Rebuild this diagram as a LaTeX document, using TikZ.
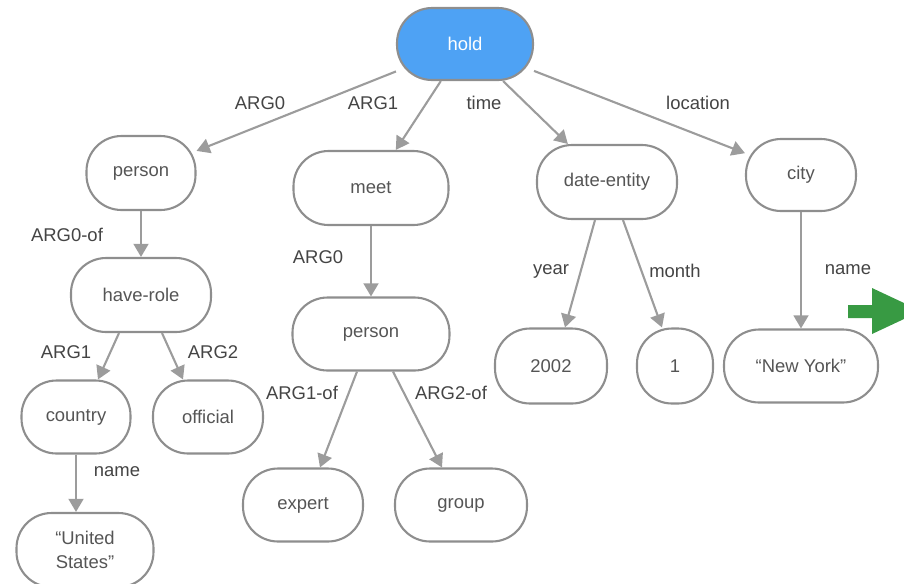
\documentclass[tikz,border=0pt]{standalone}
\usepackage{fontspec}
\setmainfont{Liberation Sans}
\usetikzlibrary{arrows.meta,calc}

\definecolor{holdblue}{HTML}{4EA2F4}
\definecolor{nodegray}{HTML}{8E8E8E}
\definecolor{edgegray}{HTML}{9C9C9C}
\definecolor{textgray}{HTML}{555555}
\definecolor{arrowgreen}{HTML}{389A43}

\tikzset{
  concept/.style={draw=nodegray, line width=1.2pt, rounded corners=0.7cm,
    minimum height=1.48cm, text=textgray, align=center,
    font=\fontsize{10.5}{14}\selectfont},
  root/.style={concept, fill=holdblue, text=white},
  relation/.style={draw=edgegray, line width=1.2pt,
    -{Triangle[width=8.5pt,length=7.5pt]}},
  rellabel/.style={text=textgray!80!black, font=\fontsize{10.5}{12}\selectfont}
}

\begin{document}
\begin{tikzpicture}[x=0.02cm,y=-0.02cm]
\useasboundingbox (0,0) rectangle (904,583);

% --- the root
\node[root,minimum width=2.72cm,minimum height=1.44cm] (hold) at (465,44) {hold};

% ---- first row
\node[concept,minimum width=2.18cm] (person) at (141,173) {person};
\node[concept,minimum width=3.1cm] (meet) at (371,188) {meet};
\node[concept,minimum width=2.8cm] (dateentity) at (607,182) {date-entity};
\node[concept,minimum width=2.2cm,minimum height=1.44cm] (city) at (801,175) {city};

% ---- second row
\node[concept,minimum width=2.8cm] (haverole) at (141,295) {have-role};
\node[concept,minimum width=3.14cm,minimum height=1.46cm] (person2) at (371,334) {person};
\node[concept,minimum width=2.24cm,minimum height=1.5cm] (y2002) at (551,366) {2002};
\node[concept,minimum width=1.52cm,minimum height=1.5cm] (m1) at (675,366) {1};
\node[concept,minimum width=3.08cm,minimum height=1.46cm] (newyork) at (801,366) {``New York''};

% ---- third row
\node[concept,minimum width=2.18cm,minimum height=1.46cm] (country) at (76,417) {country};
\node[concept,minimum width=2.2cm,minimum height=1.46cm] (official) at (208,417) {official};
\node[concept,minimum width=2.4cm,minimum height=1.46cm] (expert) at (303,505) {expert};
\node[concept,minimum width=2.64cm,minimum height=1.46cm] (group) at (461,505) {group};
\node[concept,minimum width=2.74cm] (unitedstates) at (85,550) {``United\\States''};

% --- relations from the root
\draw[relation] (hold) -- (person);
\draw[relation] (hold) -- (meet);
\draw[relation] (hold) -- (dateentity);
\draw[relation] (hold) -- (city);

% --- relations below
\draw[relation] (person) -- (haverole);
\draw[relation] ($(haverole.south)+(-22,0)$) -- ($(country.north)+(22,0)$);
\draw[relation] ($(haverole.south)+(21,0)$) -- ($(official.north)+(-25,0)$);
\draw[relation] (country.south) -- (country.south |- unitedstates.north);
\draw[relation] (meet) -- (person2);
\draw[relation] ($(person2.south)+(-14,0)$) -- ($(expert.north)+(17,0)$);
\draw[relation] ($(person2.south)+(22,0)$) -- ($(group.north)+(-19,0)$);
\draw[relation] ($(dateentity.south)+(-12,0)$) -- ($(y2002.north)+(14,0)$);
\draw[relation] ($(dateentity.south)+(16,0)$) -- ($(m1.north)+(-13,0)$);
\draw[relation] (city) -- (newyork);

% ---- labels on the relations
\node[rellabel] (larg0) at (260,103) {ARG0};
\node[rellabel] (larg1) at (373,103) {ARG1};
\node[rellabel] (ltime) at (484,103) {time};
\node[rellabel] (llocation) at (698,103) {location};
\node[rellabel] (larg0of) at (67,235) {ARG0-of};
\node[rellabel] (lmeetarg0) at (318,257) {ARG0};
\node[rellabel] (lhrarg1) at (66,352) {ARG1};
\node[rellabel] (lhrarg2) at (213,352) {ARG2};
\node[rellabel] (lname) at (117,472) {name};
\node[rellabel] (larg1of) at (302,393) {ARG1-of};
\node[rellabel] (larg2of) at (451,393) {ARG2-of};
\node[rellabel] (lyear) at (551,271) {year};
\node[rellabel] (lmonth) at (675,271) {month};
\node[rellabel] (lcityname) at (848,270) {name};

% ---- the green arrow at the right edge
\fill[arrowgreen] (848,305) -- (872,305) -- (872,288) -- (904,303)
  -- (904,319) -- (872,334) -- (872,318) -- (848,318) -- cycle;
\end{tikzpicture}
\end{document}
